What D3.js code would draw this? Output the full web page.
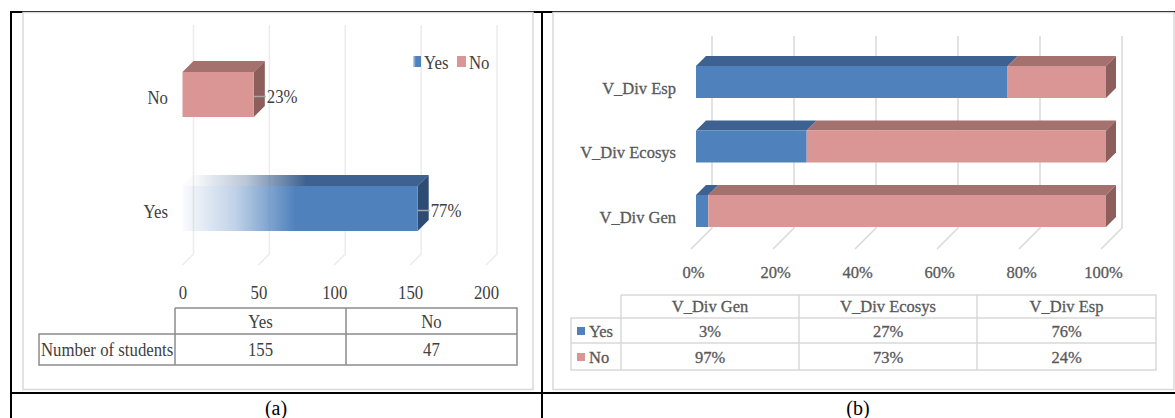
<!DOCTYPE html>
<html>
<head>
<meta charset="utf-8">
<script src="https://cdn.jsdelivr.net/npm/d3@7"></script>
<style>
  body { margin: 0; background: #fff; }
  svg text { font-family: 'Liberation Serif', 'DejaVu Serif', serif; }
</style>
</head>
<body>
<svg id="chart" font-family="Liberation Serif"></svg>
<script>
// (a) number of students
const answers = ["Yes", "No"];
const studentCounts = [155, 47];
const countTicks = [0, 50, 100, 150, 200];

// (b) share of answers per variable
const variables = ["V_Div Gen", "V_Div Ecosys", "V_Div Esp"];
const yesShare = [3, 27, 76];
const noShare = [97, 73, 24];
const shareTicks = [0, 20, 40, 60, 80, 100];

const width = 1175, height = 418;
const svg = d3.select("#chart").attr("width", width).attr("height", height);
const serif = "'Liberation Serif', 'DejaVu Serif', serif";

const blue = "#4f81bd", blueTop = "#3d6190", blueSide = "#2e4c73";
const pink = "#d99694", pinkTop = "#a5716e", pinkSide = "#8c5e5c";

// squeeze text horizontally (reference fonts are narrow/tall)
function condense(sel, k) {
    sel.each(function () {
        const w = this.getComputedTextLength();
        d3.select(this).attr("textLength", w * k).attr("lengthAdjust", "spacingAndGlyphs");
    });
}

// outer black table lines
const black = svg.append("g").attr("stroke", "#000").attr("stroke-width", 2);
black.append("line").attr("x1", 11).attr("x2", width).attr("y1", 12).attr("y2", 12);
black.append("line").attr("x1", 11).attr("x2", 11).attr("y1", 11).attr("y2", height);
black.append("line").attr("x1", 542).attr("x2", 542).attr("y1", 11).attr("y2", height);
black.append("line").attr("x1", 11).attr("x2", width).attr("y1", 393).attr("y2", 393);

// chart frames
svg.append("rect").attr("x", 23).attr("y", 12.5).attr("width", 510).attr("height", 377)
    .attr("fill", "#fff").attr("stroke", "#d9d9d9").attr("stroke-width", 1.5);
svg.append("rect").attr("x", 553).attr("y", 12.5).attr("width", 621).attr("height", 377)
    .attr("fill", "#fff").attr("stroke", "#d9d9d9").attr("stroke-width", 1.5);

// captions
svg.append("text").attr("x", 276).attr("y", 408).attr("dy", "0.35em")
    .attr("text-anchor", "middle").attr("font-size", 20).attr("font-family", serif).text("(a)");
svg.append("text").attr("x", 858).attr("y", 408).attr("dy", "0.35em")
    .attr("text-anchor", "middle").attr("font-size", 20).attr("font-family", serif).text("(b)");

// draws a 3D box: front face, top face, optional side face
function box(g, x0, x1, yTop, yBot, d, front, top, side) {
    g.append("path")
        .attr("d", `M${x0},${yTop}L${x1},${yTop}L${x1 + d},${yTop - d}L${x0 + d},${yTop - d}Z`)
        .attr("fill", top);
    if (side) {
        g.append("path")
            .attr("d", `M${x1},${yTop}L${x1 + d},${yTop - d}L${x1 + d},${yBot - d}L${x1},${yBot}Z`)
            .attr("fill", side);
    }
    g.append("rect").attr("x", x0).attr("y", yTop)
        .attr("width", x1 - x0).attr("height", yBot - yTop).attr("fill", front);
}

// ---------------- chart (a) ----------------
const ga = svg.append("g").attr("font-family", serif);
const ax = d3.scaleLinear().domain([0, 200]).range([182.5, 486]);
const ay = d3.scalePoint().domain(["No", "Yes"]).range([94.5, 208.5]);
const aDepth = 11, aBarH = 45;
const total = d3.sum(studentCounts);
const dark = "#404040", fsA = 19.5;

const defs = svg.append("defs");
function fadeGrad(id, color, x0, x1) {
    const gr = defs.append("linearGradient").attr("id", id)
        .attr("gradientUnits", "userSpaceOnUse")
        .attr("x1", x0).attr("x2", x1).attr("y1", 0).attr("y2", 0);
    gr.append("stop").attr("offset", 0).attr("stop-color", color).attr("stop-opacity", 0.03);
    gr.append("stop").attr("offset", 0.22).attr("stop-color", color).attr("stop-opacity", 0.35);
    gr.append("stop").attr("offset", 0.48).attr("stop-color", color).attr("stop-opacity", 1);
    gr.append("stop").attr("offset", 1).attr("stop-color", color).attr("stop-opacity", 1);
}
fadeGrad("yesFront", blue, ax(0), ax(studentCounts[0]));
fadeGrad("yesTop", blueTop, ax(0) + aDepth, ax(studentCounts[0]) + aDepth);
fadeGrad("yesLegend", blue, 411, 421);

// gridlines on back wall with floor diagonals
countTicks.forEach(t => {
    const x = ax(t);
    ga.append("path")
        .attr("d", `M${x},265L${x + aDepth},254L${x + aDepth},25`)
        .attr("fill", "none").attr("stroke", "#ececec").attr("stroke-width", 1.5);
});

// tick labels
ga.append("g").attr("transform", "translate(0,292)")
    .call(d3.axisBottom(ax).tickValues(countTicks).tickSize(0).tickPadding(0))
    .call(g => g.select(".domain").remove())
    .call(g => g.attr("font-family", serif))
    .selectAll("text").attr("dy", "0.35em").attr("y", 0)
    .attr("font-size", fsA).attr("fill", dark);

answers.forEach((a, i) => {
    const v = studentCounts[i];
    const cy = ay(a);
    const yTop = cy - aBarH / 2, yBot = cy + aBarH / 2;
    const isYes = a === "Yes";
    box(ga, ax(0), ax(v), yTop, yBot, aDepth,
        isYes ? "url(#yesFront)" : pink,
        isYes ? "url(#yesTop)" : pinkTop,
        isYes ? blueSide : pinkSide);
    // category label
    ga.append("text").attr("x", 168).attr("y", cy + 3).attr("dy", "0.35em")
        .attr("text-anchor", "end").attr("font-size", fsA).attr("fill", dark).text(a);
    // leader + percent label
    const lx = ax(v);
    ga.append("line").attr("x1", lx).attr("x2", lx + 12).attr("y1", cy + 2).attr("y2", cy + 2)
        .attr("stroke", "#a6a6a6").attr("stroke-width", 1.5);
    ga.append("text").attr("x", lx + 13).attr("y", cy + 2).attr("dy", "0.35em")
        .attr("font-size", fsA).attr("fill", dark)
        .text(Math.round(v / total * 100) + "%");
});

// legend (a)
const legA = ga.append("g");
legA.append("rect").attr("x", 413).attr("y", 56).attr("width", 8).attr("height", 11).attr("fill", "url(#yesLegend)");
legA.append("text").attr("x", 424).attr("y", 62).attr("dy", "0.35em").attr("font-size", fsA).attr("fill", dark).text("Yes");
legA.append("rect").attr("x", 457).attr("y", 56).attr("width", 9).attr("height", 11).attr("fill", pink);
legA.append("text").attr("x", 469).attr("y", 62).attr("dy", "0.35em").attr("font-size", fsA).attr("fill", dark).text("No");

// data table (a)
const colA = [39, 175, 346, 517], rowA = [308, 334, 365];
ga.append("path").attr("d",
    `M${colA[1]},${rowA[0]}H${colA[3]}V${rowA[2]}H${colA[0]}V${rowA[1]}H${colA[3]}` +
    `M${colA[1]},${rowA[0]}V${rowA[2]}M${colA[2]},${rowA[0]}V${rowA[2]}`)
    .attr("stroke", "#8c8c8c").attr("stroke-width", 1.5).attr("fill", "none");
answers.forEach((a, i) => {
    const cx = (colA[i + 1] + colA[i + 2]) / 2;
    ga.append("text").attr("x", cx).attr("y", 321).attr("dy", "0.35em").attr("text-anchor", "middle")
        .attr("font-size", fsA).attr("fill", dark).text(a);
    ga.append("text").attr("x", cx).attr("y", 349).attr("dy", "0.35em").attr("text-anchor", "middle")
        .attr("font-size", fsA).attr("fill", dark).text(studentCounts[i]);
});
ga.append("text").attr("x", 41).attr("y", 349).attr("dy", "0.35em")
    .attr("font-size", fsA).attr("fill", dark).text("Number of students");

condense(ga.selectAll("text"), 0.86);

// ---------------- chart (b) ----------------
const gb = svg.append("g").attr("font-family", serif);
const bx = d3.scaleLinear().domain([0, 100]).range([691, 1101]);
const by = d3.scalePoint().domain(["V_Div Esp", "V_Div Ecosys", "V_Div Gen"]).range([87, 216]);
const floorD = 21, barOff = 5, bDepth = 10, bBarH = 32;
const grey = "#595959", fsB = 16.5;

shareTicks.forEach(t => {
    const x = bx(t);
    gb.append("path")
        .attr("d", `M${x},249L${x + floorD},228L${x + floorD},36`)
        .attr("fill", "none").attr("stroke", "#d9d9d9").attr("stroke-width", 1.5);
});

gb.append("g").attr("transform", "translate(2,272)")
    .call(d3.axisBottom(bx).tickValues(shareTicks).tickFormat(d => d + "%").tickSize(0).tickPadding(0))
    .call(g => g.select(".domain").remove())
    .call(g => g.attr("font-family", serif))
    .selectAll("text").attr("dy", "0.35em").attr("y", 0)
    .attr("font-size", fsB).attr("fill", grey);

variables.forEach((v, i) => {
    const cy = by(v);
    const yTop = cy - bBarH / 2 - barOff, yBot = cy + bBarH / 2 - barOff;
    const xs = bx(0) + barOff, xm = bx(yesShare[i]) + barOff, xe = bx(yesShare[i] + noShare[i]) + barOff;
    box(gb, xs, xm, yTop, yBot, bDepth, blue, blueTop, null);
    box(gb, xm, xe, yTop, yBot, bDepth, pink, pinkTop, pinkSide);
    gb.append("text").attr("x", 676).attr("y", cy + 1).attr("dy", "0.35em")
        .attr("text-anchor", "end").attr("font-size", fsB).attr("fill", grey).text(v);
});

// data table (b)
const colB = [571, 621, 799, 977, 1156], rowB = [295, 318, 343, 370];
gb.append("path").attr("d",
    `M${colB[1]},${rowB[0]}H${colB[4]}V${rowB[3]}H${colB[0]}V${rowB[1]}H${colB[4]}` +
    `M${colB[0]},${rowB[2]}H${colB[4]}` +
    `M${colB[1]},${rowB[0]}V${rowB[3]}M${colB[2]},${rowB[0]}V${rowB[3]}M${colB[3]},${rowB[0]}V${rowB[3]}`)
    .attr("fill", "none").attr("stroke", "#d9d9d9").attr("stroke-width", 1.5);

const rowsB = [
    { name: "Yes", values: yesShare, color: blue },
    { name: "No", values: noShare, color: pink }
];
variables.forEach((v, i) => {
    const cx = (colB[i + 1] + colB[i + 2]) / 2;
    gb.append("text").attr("x", cx).attr("y", 306).attr("dy", "0.35em").attr("text-anchor", "middle")
        .attr("font-size", fsB).attr("fill", grey).text(v);
    rowsB.forEach((r, j) => {
        gb.append("text").attr("x", cx).attr("y", j ? 357 : 331).attr("dy", "0.35em").attr("text-anchor", "middle")
            .attr("font-size", fsB).attr("fill", grey).text(r.values[i] + "%");
    });
});
rowsB.forEach((r, j) => {
    const cy = j ? 357 : 331;
    gb.append("rect").attr("x", 577).attr("y", cy - 4).attr("width", 8).attr("height", 8).attr("fill", r.color);
    gb.append("text").attr("x", 589).attr("y", cy).attr("dy", "0.35em")
        .attr("font-size", fsB).attr("fill", grey).text(r.name);
});

// slightly heavier strokes, like the reference's bookish font
gb.selectAll("text").attr("stroke", grey).attr("stroke-width", 0.3);
</script>
</body>
</html>
